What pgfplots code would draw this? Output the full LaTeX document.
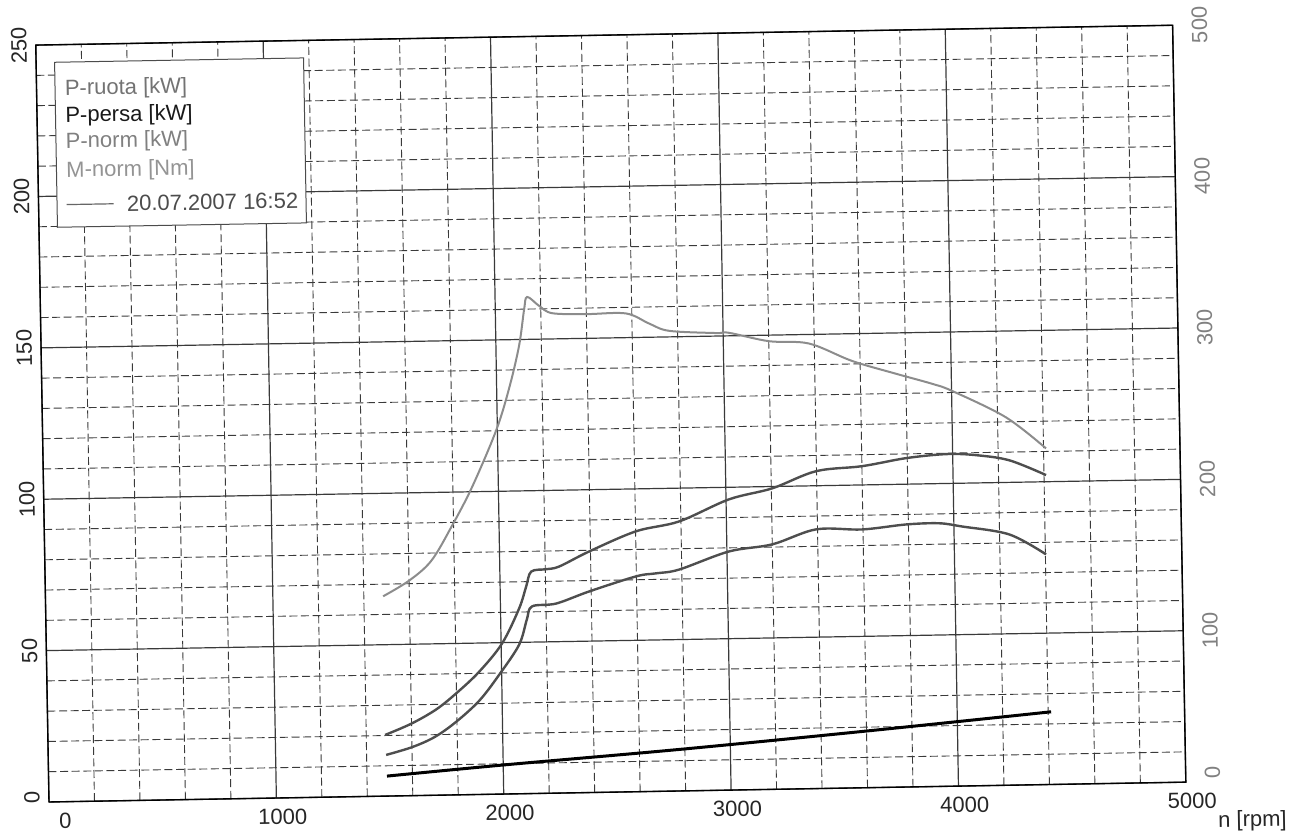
\documentclass[border=0pt]{standalone}
\usepackage{pgfplots}
\usepackage{pgfplotstable}
\pgfplotsset{compat=1.18}
\usepackage{fontspec}
\setmainfont{Liberation Sans}
\definecolor{torq}{HTML}{8C8C8C}
\definecolor{pwr}{HTML}{4E4E4E}
\definecolor{gridc}{HTML}{3A3A3A}

\pgfplotstableread{
rpm Nm
1485 132
1600 142
1700 155
1794 178
1884 203
1994 240
2055 268
2102 296
2127 320
2141 328
2193 322
2250 317
2400 316
2574 316
2676 309
2763 304
2969 302
3026 302
3201 296
3377 294
3565 282
3758 273
3915 266
4003 261
4237 243
4411 222
}\torque

\pgfplotstableread{
rpm kW
1483 20.2
1600 23.8
1709 28.3
1800 33.6
1901 40.5
2004 49.7
2082 61.2
2115 68.5
2138 73.3
2204 74.0
2261 74.8
2394 79.6
2602 86.0
2792 89.0
3013 96.0
3204 99.4
3398 104.8
3601 106.2
3795 108.6
3972 109.7
4100 109.2
4248 107.3
4409 102.2
}\pnorm

\pgfplotstableread{
rpm kW
1486 13.6
1600 16.0
1700 19.2
1796 24.1
1900 31.0
1989 39.4
2079 49.2
2115 57.5
2139 61.8
2245 62.6
2391 66.4
2598 71.1
2687 72.0
2788 73.1
3009 78.8
3200 80.9
3394 85.6
3596 85.3
3790 86.7
3935 86.9
4036 85.7
4243 82.8
4403 76.0
}\pruota

\pgfplotstableread{
rpm kW
1488 6.6
2000 9.6
2772 13.7
3597 18.7
4413 24.0
}\ppersa

\begin{document}
\begin{tikzpicture}[font=\fontsize{11}{13}\selectfont]
\begin{scope}[rotate=1, transform shape]
\begin{axis}[
  name=main,
  scale only axis, width=568.5pt, height=378.5pt,
  xmin=0, xmax=5000, ymin=0, ymax=250,
  xtick={0,1000,...,5000},
  xticklabels={\hspace{10pt}0,1000,2000,3000,4000,5000},
  minor x tick num=4,
  ytick={0,50,...,250},
  yticklabels={{\hspace{5pt}0},{50\hspace{7pt}},{100\hspace{7pt}},{150\hspace{7pt}},{200\hspace{7pt}},{250\hspace{6pt}}},
  minor y tick num=4,
  grid=both,
  major grid style={gridc, line width=0.6pt},
  minor grid style={gridc, line width=0.45pt, dash pattern=on 4pt off 1.8pt},
  major tick length=0pt, minor tick length=0pt,
  axis line style={black, line width=0.7pt},
  xticklabel style={xshift=3pt, yshift=-2pt, text=black!85},
  yticklabel style={rotate=90, anchor=south, text=black!85},
  yticklabel shift=1pt,
]
\addplot[pwr, line width=1.2pt, smooth, tension=0.55] table {\pnorm};
\addplot[pwr, line width=1.2pt, smooth, tension=0.55] table {\pruota};
\addplot[black, line width=1.5pt, smooth, tension=0.55] table {\ppersa};
\end{axis}
\begin{axis}[
  scale only axis, width=568.5pt, height=378.5pt,
  xmin=0, xmax=5000, ymin=0, ymax=500,
  axis x line=none, axis y line*=right,
  ytick={0,100,...,500},
  yticklabels={{\hspace{9pt}0},{100\hspace{5pt}},{200\hspace{5pt}},{300\hspace{5pt}},{400\hspace{5pt}},{500}},
  major tick length=0pt, minor tick length=0pt,
  axis line style={draw=none},
  yticklabel style={rotate=90, anchor=north, text=black!50},
  yticklabel shift=6pt,
]
\addplot[torq, line width=1pt, smooth, tension=0.55] table {\torque};
\end{axis}
\node[draw=black!70, line width=0.5pt, fill=white, anchor=north west, minimum width=124.5pt, minimum height=82.5pt, inner sep=0pt] at ([xshift=9pt,yshift=-8.5pt]main.north west) {};
\node[anchor=west, inner sep=0pt, text=black!55] at ([xshift=14pt,yshift=-22.5pt]main.north west) {P-ruota [kW]};
\node[anchor=west, inner sep=0pt, text=black!90] at ([xshift=14pt,yshift=-36pt]main.north west) {P-persa [kW]};
\node[anchor=west, inner sep=0pt, text=black!50] at ([xshift=14pt,yshift=-49pt]main.north west) {P-norm [kW]};
\node[anchor=west, inner sep=0pt, text=black!42] at ([xshift=14pt,yshift=-63.5pt]main.north west) {M-norm [Nm]};
\draw[black!60, line width=0.6pt] ([xshift=14pt,yshift=-80pt]main.north west) -- ++(23.5pt,0);
\node[anchor=west, inner sep=0pt, text=black!70] at ([xshift=44pt,yshift=-80pt]main.north west) {20.07.2007 16:52};
\node[text=black!85] at ([xshift=33pt,yshift=-20pt]main.south east) {n [rpm]};
\end{scope}
\pgfresetboundingbox
\useasboundingbox (-24.5pt,-15.5pt) rectangle (621pt,401pt);
\end{tikzpicture}
\end{document}
